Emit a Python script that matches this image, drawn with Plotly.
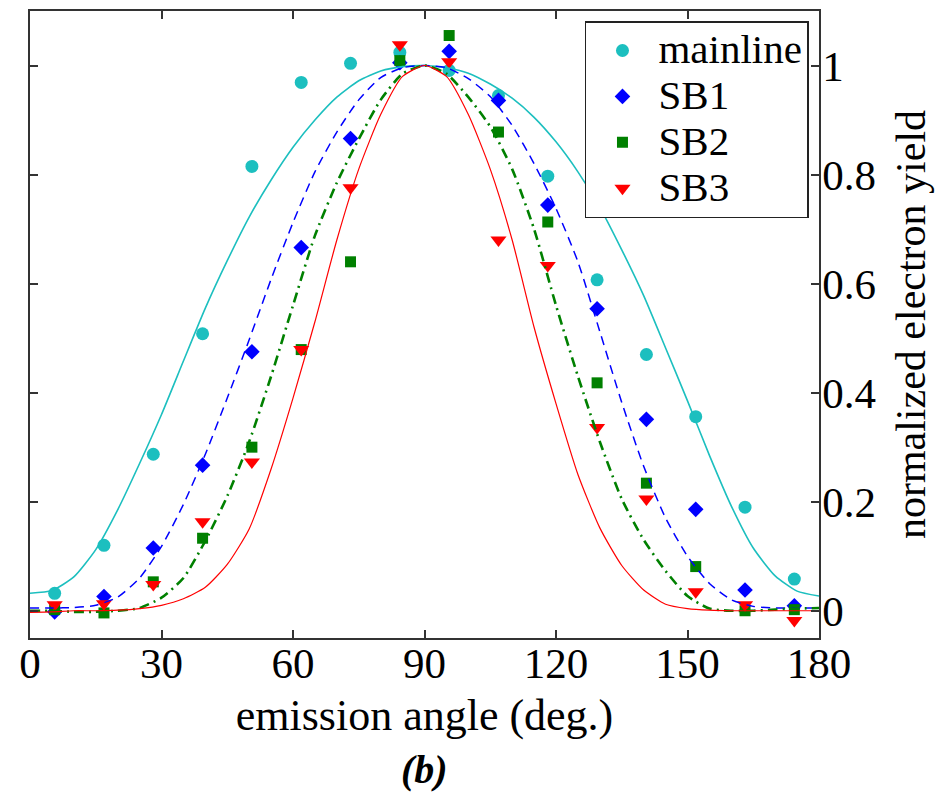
import plotly.graph_objects as go

# ---------------- data ----------------
angle_pts = [5.625, 16.875, 28.125, 39.375, 50.625, 61.875, 73.125, 84.375,
             95.625, 106.875, 118.125, 129.375, 140.625, 151.875, 163.125, 174.375]

mainline_pts = [0.032, 0.120, 0.287, 0.508, 0.815, 0.969, 1.004, 1.024,
                0.991, 0.945, 0.797, 0.607, 0.470, 0.356, 0.190, 0.058]
sb1_pts = [-0.002, 0.026, 0.115, 0.267, 0.475, 0.666, 0.866, 1.005,
           1.026, 0.936, 0.744, 0.554, 0.351, 0.186, 0.038, 0.009]
sb2_pts = [0.002, -0.004, 0.053, 0.133, 0.300, 0.479, 0.640, 1.009,
           1.055, 0.878, 0.713, 0.418, 0.234, 0.081, 0.000, 0.002]
sb3_pts = [0.011, 0.013, 0.048, 0.163, 0.273, 0.479, 0.776, 1.038,
           1.007, 0.680, 0.633, 0.336, 0.205, 0.035, 0.011, -0.018]

angle_fit = [0, 5, 10, 15, 20, 25, 30, 35, 40, 45, 50, 55, 60, 65, 70, 75, 80, 85, 90,
             95, 100, 105, 110, 115, 120, 125, 130, 135, 140, 145, 150, 155, 160, 165, 170, 175, 180]

mainline_fit = [0.032, 0.037, 0.062, 0.112, 0.185, 0.270, 0.360, 0.458, 0.555, 0.642,
                0.722, 0.790, 0.850, 0.900, 0.942, 0.972, 0.990, 0.998, 1.000,
                0.996, 0.986, 0.966, 0.940, 0.905, 0.860, 0.805, 0.740, 0.662,
                0.578, 0.482, 0.385, 0.285, 0.192, 0.115, 0.064, 0.036, 0.027]
sb1_fit = [0.005, 0.005, 0.006, 0.010, 0.025, 0.060, 0.118, 0.195, 0.287, 0.390,
           0.497, 0.608, 0.712, 0.805, 0.878, 0.937, 0.978, 0.996, 1.000,
           0.996, 0.976, 0.943, 0.890, 0.820, 0.738, 0.640, 0.512, 0.382,
           0.265, 0.170, 0.100, 0.050, 0.020, 0.008, 0.005, 0.005, 0.005]
sb2_fit = [0.000, 0.000, -0.002, -0.002, 0.000, 0.005, 0.024, 0.060, 0.128, 0.210,
           0.310, 0.430, 0.560, 0.688, 0.785, 0.865, 0.937, 0.985, 1.000,
           0.985, 0.942, 0.888, 0.810, 0.700, 0.560, 0.430, 0.310, 0.205,
           0.130, 0.073, 0.027, 0.004, 0.000, 0.000, 0.002, 0.004, 0.005]
sb3_fit = [-0.003, -0.002, 0.000, 0.000, 0.001, 0.004, 0.010, 0.022, 0.043, 0.085,
           0.150, 0.260, 0.390, 0.530, 0.680, 0.810, 0.910, 0.980, 1.000,
           0.980, 0.910, 0.810, 0.680, 0.520, 0.380, 0.250, 0.152, 0.083,
           0.038, 0.012, 0.004, 0.001, 0.000, 0.000, 0.000, 0.000, 0.000]

series_names = ["mainline", "SB1", "SB2", "SB3"]
x_ticks = [0, 30, 60, 90, 120, 150, 180]
y_ticks = [0, 0.2, 0.4, 0.6, 0.8, 1]
y_tick_labels = ["0", "0.2", "0.4", "0.6", "0.8", "1"]

# ---------------- styles ----------------
colors = ["#1CBFBF", "#0000FF", "#008000", "#FF0000"]
symbols = ["circle", "diamond", "square", "triangle-down"]
msizes = [13, 12, 11, 14]
line_dash = ["solid", "9px,6px", "10px,5px,2px,5px", "solid"]
line_w = [1.6, 1.5, 2.6, 1.2]

pts = [mainline_pts, sb1_pts, sb2_pts, sb3_pts]
fits = [mainline_fit, sb1_fit, sb2_fit, sb3_fit]

FONT = "Liberation Serif"

fig = go.Figure()
for i in range(4):
    fig.add_trace(go.Scatter(
        x=angle_pts, y=pts[i], mode="markers",
        name='<span style="font-size:41px">' + series_names[i] + '</span>',
        marker=dict(symbol=symbols[i], size=msizes[i], color=colors[i],
                    line=dict(width=0)),
        showlegend=True))
for i in range(4):
    fig.add_trace(go.Scatter(
        x=angle_fit, y=fits[i], mode="lines",
        line=dict(color=colors[i], width=line_w[i], dash=line_dash[i],
                  shape="spline", smoothing=0.6),
        showlegend=False, hoverinfo="skip"))

axis_common = dict(showline=True, linecolor="#333333", linewidth=1.5,
                   ticks="inside", ticklen=8, tickwidth=1.5, tickcolor="#333333",
                   mirror="ticks", showgrid=False, zeroline=False)

fig.update_layout(
    width=939, height=796,
    margin=dict(l=30, r=120, t=9, b=158),
    paper_bgcolor="white", plot_bgcolor="white",
    font=dict(family=FONT, size=42, color="black"),
    xaxis=dict(range=[0, 180], tickmode="array", tickvals=x_ticks,
               ticklabelstandoff=-13,
               title=dict(text="emission angle (deg.)", standoff=13,
                          font=dict(family=FONT, size=44)),
               tickfont=dict(family=FONT, size=43), **axis_common),
    yaxis=dict(range=[-0.05, 1.1], side="right", tickmode="array",
               tickvals=y_ticks, ticktext=y_tick_labels,
               ticklabelstandoff=-7,
               title=dict(text="normalized electron yield", standoff=21,
                          font=dict(family=FONT, size=42)),
               tickfont=dict(family=FONT, size=43), **axis_common),
    legend=dict(x=0.9873, y=0.984, xanchor="right", yanchor="top",
                bgcolor="white", bordercolor="#222222", borderwidth=1.5,
                font=dict(family=FONT, size=33), itemsizing="trace",
                itemwidth=62, tracegroupgap=0),
    annotations=[dict(text="<b><i>(b)</i></b>", xref="paper", yref="paper",
                      x=0.5, y=-0.21, xanchor="center", yanchor="middle",
                      showarrow=False, font=dict(family=FONT, size=40))],
    showlegend=True,
)

fig.write_html("out.html")
